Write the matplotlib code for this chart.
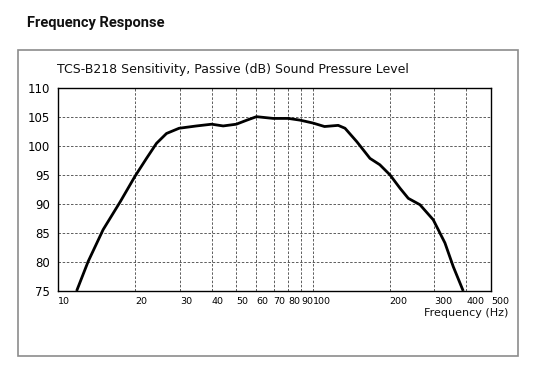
import matplotlib
matplotlib.use("Agg")
import matplotlib.pyplot as plt
import matplotlib.patches as patches

# Frequency response (Hz, dB)
freq = [11.8, 13.1, 15.0, 17.5, 20.0, 22.2, 24.3, 26.6, 29.8, 34.9, 40.0,
        44.4, 50.0, 55.0, 60.0, 69.8, 80.0, 89.0, 100.0, 111.0, 125.6, 133.6,
        148.5, 167.4, 183.0, 200.6, 219.6, 236.7, 263.0, 296.6, 329.7, 355.5, 389.0]
spl = [75.0, 80.1, 85.6, 90.4, 94.8, 97.9, 100.5, 102.2, 103.1, 103.5, 103.8,
       103.5, 103.8, 104.5, 105.1, 104.8, 104.8, 104.5, 104.0, 103.4, 103.6, 103.1,
       100.8, 97.9, 96.8, 95.05, 92.75, 91.0, 89.9, 87.3, 83.3, 79.2, 75.0]

x_ticks = [10, 20, 30, 40, 50, 60, 70, 80, 90, 100, 200, 300, 400, 500]
y_ticks = [75, 80, 85, 90, 95, 100, 105, 110]

fig = plt.figure(figsize=(5.43, 3.82), dpi=100)
fig.patch.set_facecolor('white')

# outer gray frame
frame = patches.Rectangle((18 / 543, 1 - 356 / 382), 500 / 543, 306 / 382,
                          transform=fig.transFigure, fill=False,
                          ec='#8c8c8c', lw=1.2)
fig.add_artist(frame)

fig.text(27 / 543, 1 - 23 / 382, 'Frequency Response', fontsize=10.5,
         fontweight='bold', family=['Roboto', 'DejaVu Sans'],
         va='center', ha='left', color='#111111')

ax = fig.add_axes([58.3 / 543, 1 - 291 / 382, (491 - 58.3) / 543, (291 - 88.3) / 382])
ax.set_xscale('log')
ax.set_xlim(10, 500)
ax.set_ylim(75, 110)

ax.plot(freq, spl, color='black', lw=2, solid_capstyle='butt')

ax.set_xticks(x_ticks)
ax.set_xticklabels([str(t) for t in x_ticks], fontsize=6.8, ha='left')
ax.xaxis.set_minor_locator(matplotlib.ticker.NullLocator())
ax.set_yticks(y_ticks)
ax.set_yticklabels([str(t) for t in y_ticks], fontsize=8.5)
ax.tick_params(length=0)
ax.tick_params(axis='y', pad=6)
ax.tick_params(axis='x', pad=4)

ax.grid(True, which='major', color='#444444', lw=0.6, linestyle=(0, (3, 2)))
for s in ax.spines.values():
    s.set_color('black')
    s.set_linewidth(1)

fig.text(57 / 543, 1 - 70 / 382, 'TCS-B218 Sensitivity, Passive (dB) Sound Pressure Level',
         fontsize=9.0, va='center', ha='left', color='#111111')
fig.text(508 / 543, 1 - 313 / 382, 'Frequency (Hz)', fontsize=8.0,
         va='center', ha='right', color='#111111')

fig.savefig('out.png', dpi=100)
